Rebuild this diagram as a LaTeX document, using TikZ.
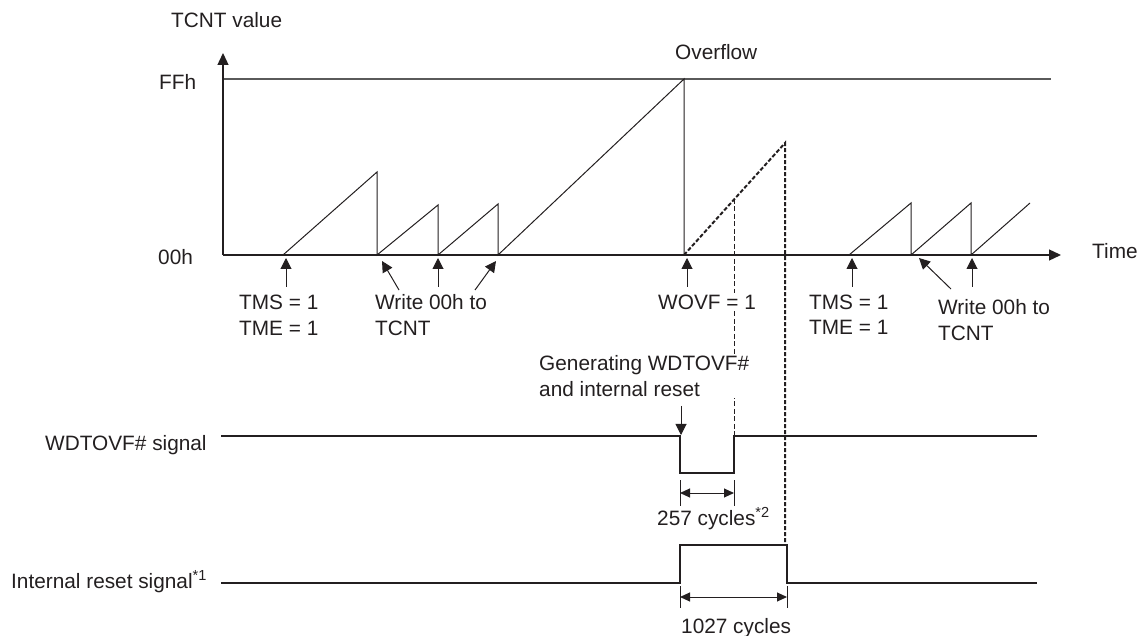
\documentclass[tikz,border=0pt]{standalone}
\usepackage{fontspec}
\setmainfont{Liberation Sans}
\usetikzlibrary{arrows.meta}
\definecolor{ink}{HTML}{231F20}
\definecolor{ffline}{HTML}{5A5A5A}
\begin{document}
\begin{tikzpicture}[x=1pt,y=-1pt,
  lbl/.style={anchor=base west, inner sep=0pt, text=ink, align=left,
              font=\fontsize{20.8}{25.5}\selectfont},
  masklbl/.style={lbl, fill=white, inner sep=1.5pt},
  axisline/.style={draw=ink, line width=1.3pt, -{Triangle[length=12pt,width=11pt]}},
  ffh/.style={draw=ffline, line width=1.6pt},
  wave/.style={draw=ink, line width=1pt, line join=miter},
  sig/.style={draw=ink, line width=1.3pt},
  pointer/.style={draw=ink, line width=1pt, -{Triangle[length=11pt,width=11pt]}},
  dim/.style={draw=ink, line width=1pt, {Triangle[length=10pt,width=9pt]}-{Triangle[length=10pt,width=9pt]}},
  tick/.style={draw=ink, line width=1pt},
  thickdash/.style={draw=ink, line width=2pt, dash pattern=on 4pt off 2pt},
  thindash/.style={draw=ink, line width=0.9pt, dash pattern=on 5pt off 2.5pt}]
\useasboundingbox (0,0) rectangle (1144,636);

% --- key coordinates
\coordinate (O) at (223,255);
\coordinate (Ytop) at (223,53);
\coordinate (Xend) at (1061,255);
\coordinate (Fa) at (223,79);
\coordinate (Fb) at (1051,79);
\coordinate (ovf) at (684,79);
\coordinate (ovf0) at (684,255);
\coordinate (rpk) at (785,143);
\coordinate (rmid) at (734,199);
\coordinate (wlo) at (734,436);
\coordinate (ihi) at (785,545);

% --- dashed projections (drawn first; labels mask them)
\draw[thindash] (rmid) -- (wlo);
\draw[thickdash] (ovf0) -- (rpk) -- (ihi);

% --- axes and FFh level
\draw[ffh] (Fa) -- (Fb);
\draw[axisline] (O) -- (Ytop);
\draw[axisline] (O) -- (Xend);

% --- counter waveform
\draw[wave] (283,255) -- (377,172) -- (377,255) -- (438,205) -- (438,255)
  -- (498,204) -- (498,255) -- (ovf) -- (ovf0);
\draw[wave] (849,255) -- (911,203) -- (911,255) -- (971,203) -- (971,255) -- (1030,203);

% --- signals
\draw[sig] (221,436) -- (680,436) -- (680,473) -- (734,473) -- (wlo) -- (1037,436);
\draw[sig] (221,583) -- (680,583) -- (680,545) -- (787,545) -- (787,583) -- (1037,583);

% --- labels (base anchor = baseline of the last line)
\node[lbl] (tcnt) at (171,27.5) {TCNT value};
\node[lbl] (ffhl) at (159,89.5) {FFh};
\node[lbl] (zero) at (158,264.5) {00h};
\node[lbl] (ovfl) at (675,59.5) {Overflow};
\node[lbl] (time) at (1092,258.5) {Time};
\node[lbl] (tms1) at (239,335.5) {TMS = 1\\TME = 1};
\node[lbl] (wr1) at (375,335.5) {Write 00h to\\TCNT};
\node[masklbl] (wovf) at (656.5,309.5) {WOVF = 1};
\node[lbl] (tms2) at (809,335) {TMS = 1\\TME = 1};
\node[lbl] (wr2) at (938,340.5) {Write 00h to\\TCNT};
\node[masklbl] (gen) at (537.5,396) {Generating WDTOVF\#\\and internal reset};
\node[lbl] (wsig) at (45,450) {WDTOVF\# signal};
\node[lbl] (isig) at (11,588) {Internal reset signal\textsuperscript{*1}};
\node[lbl] (c257) at (657,525) {257 cycles\textsuperscript{*2}};
\node[lbl] (c1027) at (681,633) {1027 cycles};

% --- pointer arrows
\coordinate (p1t) at (286,287); \coordinate (p1h) at (286,258);
\coordinate (p2t) at (399,290); \coordinate (p2h) at (382,261);
\coordinate (p3t) at (438,287); \coordinate (p3h) at (438,258);
\coordinate (p4t) at (475,290); \coordinate (p4h) at (496,261);
\coordinate (p5t) at (687,287); \coordinate (p5h) at (687,258);
\coordinate (p6t) at (852,287); \coordinate (p6h) at (852,258);
\coordinate (p7t) at (951,289); \coordinate (p7h) at (919,258);
\coordinate (p8t) at (972,287); \coordinate (p8h) at (972,258);
\coordinate (p9t) at (681,406); \coordinate (p9h) at (681,435);
\foreach \i in {1,...,9} \draw[pointer] (p\i t) -- (p\i h);

% --- dimension arrows
\coordinate (d1a) at (680,493); \coordinate (d1b) at (734,493);
\draw[tick] (680,480) -- (680,506);
\draw[tick] (734,480) -- (734,506);
\draw[dim] (d1a) -- (d1b);
\coordinate (d2a) at (680,597); \coordinate (d2b) at (787,597);
\draw[tick] (680,586) -- (680,608);
\draw[tick] (787,586) -- (787,608);
\draw[dim] (d2a) -- (d2b);
\end{tikzpicture}
\end{document}
